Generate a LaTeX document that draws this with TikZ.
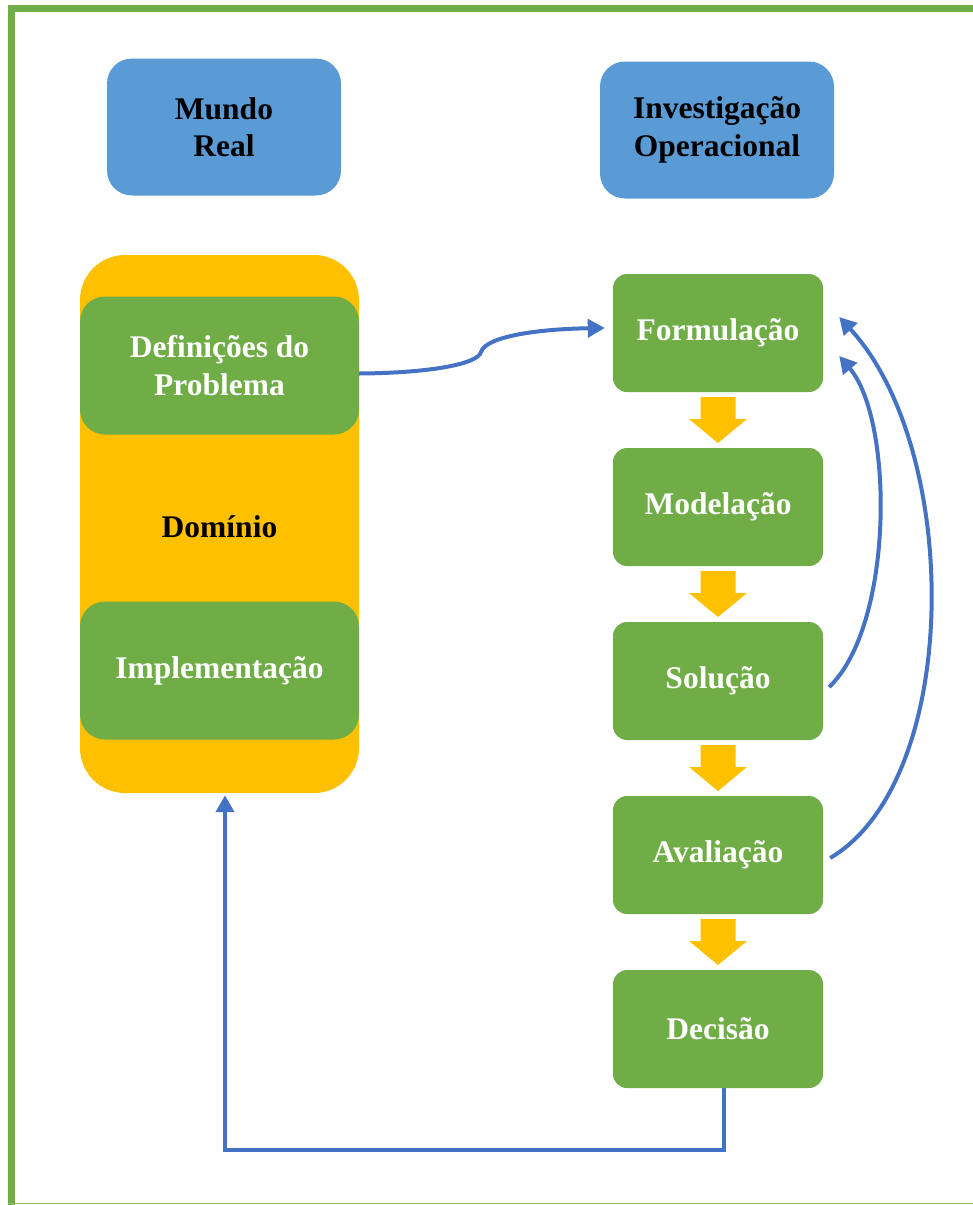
\documentclass[tikz,border=0pt]{standalone}
\usepackage{fontspec}
\setmainfont{Liberation Serif}
\usetikzlibrary{arrows.meta,calc}
\definecolor{frameg}{HTML}{70AD47}
\definecolor{boxg}{HTML}{70AD47}
\definecolor{boxb}{HTML}{5B9BD5}
\definecolor{orng}{HTML}{FFC000}
\definecolor{conn}{HTML}{4472C4}
\tikzset{
  lbl/.style={font=\fontsize{31.5}{37.5}\selectfont\bfseries, align=center, inner sep=0pt},
  bluebox/.style={lbl, fill=boxb, rounded corners=25pt, minimum width=234pt, minimum height=137pt, text=black},
  leftg/.style={lbl, fill=boxg, rounded corners=25pt, minimum width=279pt, minimum height=138pt, text=white},
  rightg/.style={lbl, fill=boxg, rounded corners=14pt, minimum width=210pt, minimum height=118pt, text=white},
  link/.style={draw=conn, line width=4pt, -{Triangle[length=17pt,width=18pt]}},
  downarr/.pic={\fill[orng] (-17.5,0) -- (17.5,0) -- (17.5,22) -- (29,22) -- (0,46) -- (-29,22) -- (-17.5,22) -- cycle;}
}
\begin{document}
\begin{tikzpicture}[x=1pt,y=-1pt]
\useasboundingbox (0,0) rectangle (973,1205);
% frame
\fill[frameg] (8,5) rectangle (973,12);
\fill[frameg] (8,5) rectangle (15,1205);
\fill[frameg!80] (8,1202.5) rectangle (973,1204);
% top blue boxes
\node[bluebox] (mundo) at (224,127) {Mundo\\Real};
\node[bluebox] (invop) at (717,130) {Investigação\\Operacional};
% domain
\node[lbl, fill=orng, rounded corners=45pt, minimum width=279pt, minimum height=538pt] (dom) at (219.5,524) {};
\node[leftg] (def) at (219.5,365.5) {Definições do\\Problema};
\node[lbl, text=black] (domlbl) at (219.5,527) {Domínio};
\node[leftg] (impl) at (219.5,670.5) {\raisebox{-3pt}{Implementação}};
% right column
\node[rightg] (form) at (718,333) {\raisebox{-3pt}{Formulação}};
\node[rightg] (mod) at (718,507) {\raisebox{-3pt}{Modelação}};
\node[rightg] (sol) at (718,681) {\raisebox{-3pt}{Solução}};
\node[rightg] (aval) at (718,855) {\raisebox{-3pt}{Avaliação}};
\node[rightg] (dec) at (718,1029) {\raisebox{-1pt}{Decisão}};
\pic at (718,397) {downarr};
\pic at (718,571) {downarr};
\pic at (718,745) {downarr};
\pic at (718,919) {downarr};
% connectors
\coordinate (k1) at (481,352);
\draw[link] ([yshift=-8pt]def.east) .. controls (430,373) and (478,364) .. (k1)
  .. controls (486,336) and (540,329) .. ([xshift=-8pt,yshift=5pt]form.west);
\draw[link] ([xshift=6pt,yshift=-6pt]sol.east) .. controls (894,625) and (894,420) .. ([xshift=16pt,yshift=-23pt]form.east);
\draw[link] ([xshift=7pt,yshift=-3pt]aval.east) .. controls (962,780) and (962,450) .. ([xshift=16pt,yshift=16pt]form.east);
\coordinate (br) at (724,1150);
\coordinate (bl) at (225,1150);
\draw[link] (dec.south -| br) -- (br) -- (bl) -- ([yshift=-2pt]bl |- dom.south);
\end{tikzpicture}
\end{document}
